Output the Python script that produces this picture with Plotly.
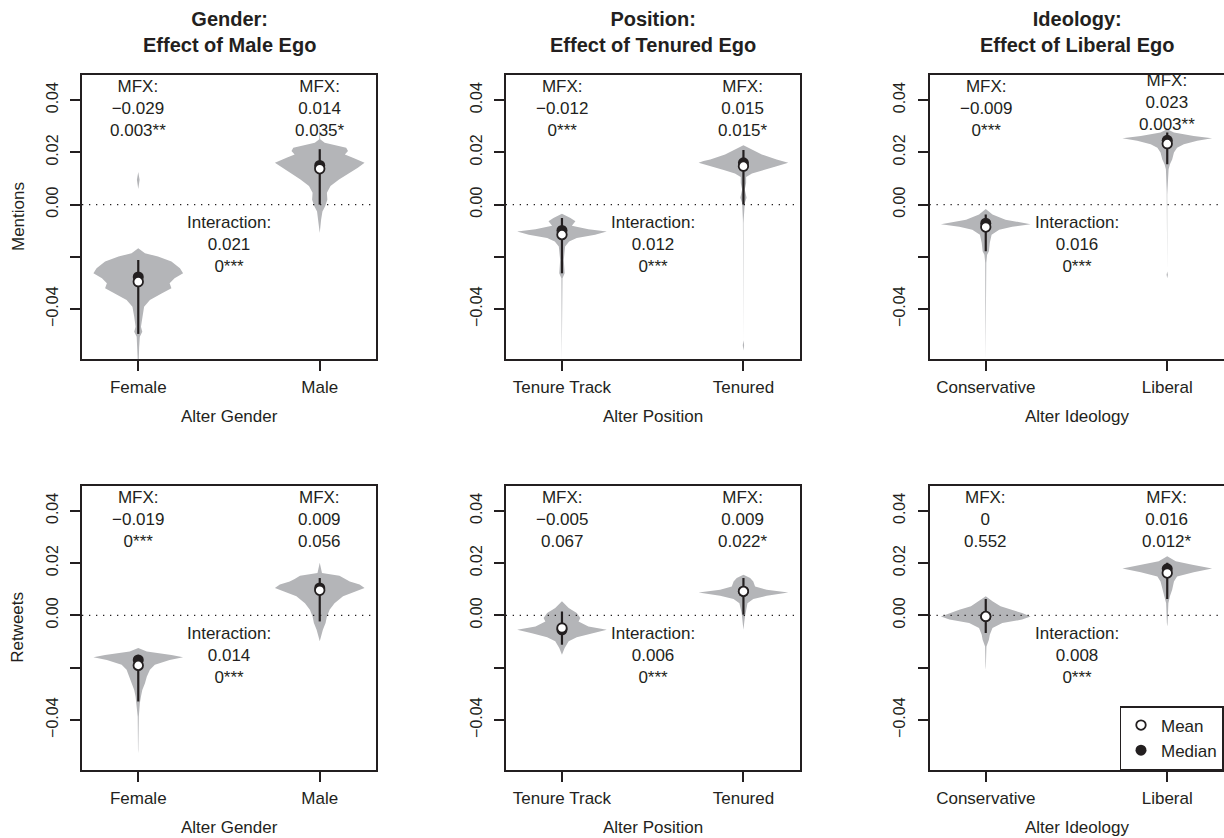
import plotly.graph_objects as go

W, H = 1224, 838
INK = "#231f20"
VIOLIN_GRAY = "#b4b5b8"
FONT = "Liberation Sans, Arial, Helvetica, sans-serif"

# ---------------- data ----------------
ROWS = ["Mentions", "Retweets"]
PANEL_TITLES = ["Gender:<br>Effect of Male Ego",
                "Position:<br>Effect of Tenured Ego",
                "Ideology:<br>Effect of Liberal Ego"]
XTITLES = ["Alter Gender", "Alter Position", "Alter Ideology"]
CATEGORIES = [["Female", "Male"], ["Tenure Track", "Tenured"], ["Conservative", "Liberal"]]

Y_TICKS = [-0.04, -0.02, 0.0, 0.02, 0.04]
Y_TICKTEXT = ["\u22120.04", "", "0.00", "0.02", "0.04"]
Y_RANGE = [-0.0591, 0.0496]
X_RANGE = [0.69, 2.31]
MAX_HALF_WIDTH = 0.247

# violin profiles: y values and relative half widths (1 = widest)
MEN_FEMALE_Y = [0.0125, 0.0095, 0.0060, -0.0167, -0.0186, -0.0199, -0.0218, -0.0244, -0.0263, -0.0282,
                -0.0301, -0.0320, -0.0340, -0.0365, -0.0391, -0.0429, -0.0468, -0.0487, -0.0506,
                -0.0545, -0.0603]
MEN_FEMALE_W = [0, 0.03, 0, 0, 0.15, 0.44, 0.74, 0.93, 1.0, 0.81, 0.70, 0.74, 0.52, 0.26, 0.13, 0.09,
                0.06, 0.09, 0.035, 0.02, 0.01]
MEN_MALE_Y = [0.0330, 0.0250, 0.0237, 0.0218, 0.0205, 0.0192, 0.0179, 0.0160, 0.0141, 0.0122, 0.0096,
              0.0071, 0.0045, 0.0019, -0.0006, -0.0026, -0.0058, -0.0109]
MEN_MALE_W = [0, 0.01, 0.11, 0.59, 0.63, 0.56, 0.74, 1.0, 0.85, 0.67, 0.43, 0.24, 0.16, 0.17, 0.12,
              0.06, 0.03, 0]
MEN_TT_Y = [-0.0035, -0.0051, -0.0064, -0.0081, -0.0094, -0.0103, -0.0115, -0.0128, -0.0141, -0.0160,
            -0.0212, -0.0263, -0.0282, -0.0596]
MEN_TT_W = [0, 0.19, 0.30, 0.22, 0.59, 1.0, 0.74, 0.33, 0.16, 0.07, 0.04, 0.06, 0.012, 0.005]
MEN_TEN_Y = [0.0227, 0.0212, 0.0192, 0.0173, 0.0167, 0.0160, 0.0147, 0.0132, 0.0119, 0.0106, 0.0083,
             0.0058, 0.0026, 0.0006, -0.0058, -0.0071, -0.0519, -0.0538, -0.0558]
MEN_TEN_W = [0, 0.19, 0.41, 0.74, 0.89, 1.0, 0.74, 0.44, 0.19, 0.06, 0.06, 0.03, 0.07, 0.03, 0.012, 0,
             0, 0.015, 0]
MEN_CON_Y = [-0.0017, -0.0038, -0.0058, -0.0075, -0.0085, -0.0096, -0.0115, -0.0147, -0.0179, -0.0192,
             -0.0224, -0.0596]
MEN_CON_W = [0, 0.15, 0.44, 1.0, 0.59, 0.30, 0.13, 0.09, 0.07, 0.03, 0.012, 0.005]
MEN_LIB_Y = [0.0288, 0.0276, 0.0263, 0.0254, 0.0244, 0.0231, 0.0218, 0.0199, 0.0173, 0.0154, 0.0135,
             0.0051, 0.0038, -0.0256, -0.0269, -0.0282]
MEN_LIB_W = [0, 0.15, 0.59, 1.0, 0.67, 0.37, 0.22, 0.15, 0.11, 0.06, 0.03, 0.012, 0, 0, 0.015, 0]

RT_FEMALE_Y = [-0.0125, -0.0138, -0.0151, -0.0160, -0.0170, -0.0189, -0.0208, -0.0234, -0.0259, -0.0285,
               -0.0310, -0.0336, -0.0387, -0.0514, -0.0527]
RT_FEMALE_W = [0, 0.19, 0.74, 1.0, 0.70, 0.37, 0.26, 0.19, 0.15, 0.09, 0.06, 0.035, 0.012, 0.006, 0]
RT_MALE_Y = [0.0201, 0.0162, 0.0152, 0.0139, 0.0130, 0.0118, 0.0105, 0.0092, 0.0073, 0.0047, 0.0022,
             -0.0004, -0.0029, -0.0055, -0.0080, -0.0099]
RT_MALE_W = [0, 0.05, 0.44, 0.56, 0.67, 0.89, 1.0, 0.81, 0.52, 0.33, 0.22, 0.16, 0.13, 0.07, 0.03, 0]
RT_TT_Y = [0.0054, 0.0028, 0.0009, -0.0010, -0.0023, -0.0042, -0.0055, -0.0068, -0.0083, -0.0099,
           -0.0125, -0.0150]
RT_TT_W = [0, 0.15, 0.33, 0.41, 0.37, 0.59, 1.0, 0.67, 0.33, 0.15, 0.06, 0]
RT_TEN_Y = [0.0156, 0.0143, 0.0130, 0.0111, 0.0098, 0.0088, 0.0075, 0.0063, 0.0047, 0.0009, -0.0004,
            -0.0023, -0.0055]
RT_TEN_W = [0, 0.15, 0.22, 0.26, 0.52, 1.0, 0.52, 0.22, 0.09, 0.04, 0.035, 0.02, 0]
RT_CON_Y = [0.0073, 0.0054, 0.0035, 0.0022, 0.0009, -0.0004, -0.0016, -0.0029, -0.0048, -0.0074,
            -0.0093, -0.0119, -0.0195, -0.0208]
RT_CON_W = [0, 0.15, 0.33, 0.59, 0.81, 1.0, 0.81, 0.37, 0.15, 0.09, 0.07, 0.015, 0.006, 0]
RT_LIB_Y = [0.0226, 0.0207, 0.0194, 0.0179, 0.0165, 0.0149, 0.0130, 0.0098, 0.0073, 0.0047, -0.0029,
            -0.0042]
RT_LIB_W = [0, 0.19, 0.56, 1.0, 0.59, 0.22, 0.15, 0.11, 0.06, 0.025, 0.008, 0]

# interval (black line) low / high, mean, median per violin, order: row, column, category
CI_LOW = [[[-0.0495, 0.0000], [-0.0263, 0.0000], [-0.0179, 0.0154]],
          [[-0.0329, -0.0023], [-0.0112, 0.0003], [-0.0067, 0.0063]]]
CI_HIGH = [[[-0.0212, 0.0212], [-0.0051, 0.0209], [-0.0038, 0.0276]],
           [[-0.0151, 0.0143], [0.0015, 0.0143], [0.0063, 0.0201]]]
MEANS = [[[-0.0295, 0.0137], [-0.0115, 0.0147], [-0.0086, 0.0233]],
         [[-0.0191, 0.0096], [-0.0048, 0.0092], [-0.0004, 0.0162]]]
MEDIANS = [[[-0.0277, 0.0150], [-0.0099, 0.0160], [-0.0071, 0.0246]],
           [[-0.0170, 0.0105], [-0.0055, 0.0092], [-0.0004, 0.0178]]]

# MFX labels: value, p-value  (per row, column, [cat1, cat2, interaction])
MFX_VALUES = [[["\u22120.029", "0.014", "0.021"], ["\u22120.012", "0.015", "0.012"], ["\u22120.009", "0.023", "0.016"]],
              [["\u22120.019", "0.009", "0.014"], ["\u22120.005", "0.009", "0.006"], ["0", "0.016", "0.008"]]]
MFX_PVALUES = [[["0.003**", "0.035*", "0***"], ["0***", "0.015*", "0***"], ["0***", "0.003**", "0***"]],
               [["0***", "0.056", "0***"], ["0.067", "0.022*", "0***"], ["0.552", "0.012*", "0***"]]]
MFX_LABEL_Y = [[[0.0368, 0.0368], [0.0368, 0.0368], [0.0368, 0.0392]],
               [[0.0368, 0.0368], [0.0368, 0.0368], [0.0368, 0.0368]]]
INTERACTION_LABEL_Y = -0.0153
REF_Y = 0.0

VIOLINS = [[[(MEN_FEMALE_Y, MEN_FEMALE_W), (MEN_MALE_Y, MEN_MALE_W)],
            [(MEN_TT_Y, MEN_TT_W), (MEN_TEN_Y, MEN_TEN_W)],
            [(MEN_CON_Y, MEN_CON_W), (MEN_LIB_Y, MEN_LIB_W)]],
           [[(RT_FEMALE_Y, RT_FEMALE_W), (RT_MALE_Y, RT_MALE_W)],
            [(RT_TT_Y, RT_TT_W), (RT_TEN_Y, RT_TEN_W)],
            [(RT_CON_Y, RT_CON_W), (RT_LIB_Y, RT_LIB_W)]]]

# ---------------- layout geometry (pixels) ----------------
COL_X = [(82, 376), (505.7, 799.7), (929.5, 1223.5)]
ROW_Y = [(75, 359), (485.7, 770)]

fig = go.Figure()
layout = dict(width=W, height=H, margin=dict(l=0, r=0, t=0, b=0),
              paper_bgcolor="white", plot_bgcolor="white",
              font=dict(family=FONT, color=INK, size=17),
              showlegend=True, annotations=[])

for r in range(2):
    for c in range(3):
        idx = r * 3 + c + 1
        xa = "x" if idx == 1 else f"x{idx}"
        ya = "y" if idx == 1 else f"y{idx}"
        x0, x1 = COL_X[c]
        y0, y1 = ROW_Y[r]
        layout[f"xaxis{'' if idx == 1 else idx}"] = dict(
            domain=[x0 / W, x1 / W], range=X_RANGE, anchor=ya,
            tickvals=[1, 2], ticktext=CATEGORIES[c], ticks="outside", ticklen=10,
            tickwidth=1.5, tickcolor=INK, showline=True, mirror=True, linecolor=INK,
            linewidth=1.5, showgrid=False, zeroline=False, tickfont=dict(size=17),
            ticklabelstandoff=2, fixedrange=True)
        layout[f"yaxis{'' if idx == 1 else idx}"] = dict(
            domain=[1 - y1 / H, 1 - y0 / H], range=Y_RANGE, anchor=xa,
            tickvals=Y_TICKS, ticktext=Y_TICKTEXT, tickangle=-90, ticks="outside",
            ticklen=10, tickwidth=1.5, tickcolor=INK, showline=True, mirror=True,
            linecolor=INK, linewidth=1.5, showgrid=False, zeroline=False,
            tickfont=dict(size=16), ticklabelstandoff=6, fixedrange=True)

        # violins
        for k in range(2):
            vy, vw = VIOLINS[r][c][k]
            pos = k + 1
            xs = [pos + w * MAX_HALF_WIDTH for w in vw] + [pos - w * MAX_HALF_WIDTH for w in vw[::-1]]
            ys = list(vy) + list(vy[::-1])
            fig.add_trace(go.Scatter(x=xs, y=ys, xaxis=xa, yaxis=ya, mode="lines",
                                     fill="toself", fillcolor=VIOLIN_GRAY,
                                     line=dict(width=0, color=VIOLIN_GRAY),
                                     hoverinfo="skip", showlegend=False))
        # dotted reference line
        fig.add_trace(go.Scatter(x=X_RANGE, y=[REF_Y, REF_Y], xaxis=xa, yaxis=ya, mode="lines",
                                 line=dict(color=INK, width=1.3, dash="1.3px,5.7px"),
                                 hoverinfo="skip", showlegend=False))
        # intervals
        for k in range(2):
            pos = k + 1
            fig.add_trace(go.Scatter(x=[pos, pos], y=[CI_LOW[r][c][k], CI_HIGH[r][c][k]],
                                     xaxis=xa, yaxis=ya, mode="lines",
                                     line=dict(color=INK, width=2.2),
                                     hoverinfo="skip", showlegend=False))
        last = (r == 1 and c == 2)
        fig.add_trace(go.Scatter(x=[1, 2], y=MEDIANS[r][c], xaxis=xa, yaxis=ya, mode="markers",
                                 marker=dict(color=INK, size=11, line=dict(width=0)),
                                 name="Median", legendrank=2, showlegend=last, hoverinfo="skip"))
        fig.add_trace(go.Scatter(x=[1, 2], y=MEANS[r][c], xaxis=xa, yaxis=ya, mode="markers",
                                 marker=dict(color="white", size=9.5, line=dict(width=1.8, color=INK)),
                                 name="Mean", legendrank=1, showlegend=last, hoverinfo="skip"))

        # MFX texts
        for k in range(2):
            layout["annotations"].append(dict(
                x=k + 1, y=MFX_LABEL_Y[r][c][k], xref=xa, yref=ya, showarrow=False,
                text=f"MFX:<br>{MFX_VALUES[r][c][k]}<br>{MFX_PVALUES[r][c][k]}",
                font=dict(size=17), xanchor="center", yanchor="middle"))
        layout["annotations"].append(dict(
            x=1.5, y=INTERACTION_LABEL_Y, xref=xa, yref=ya, showarrow=False,
            text=f"Interaction:<br>{MFX_VALUES[r][c][2]}<br>{MFX_PVALUES[r][c][2]}",
            font=dict(size=17), xanchor="center", yanchor="middle"))

        # x-axis title
        layout["annotations"].append(dict(
            x=(x0 + x1) / 2 / W, y=1 - (y1 + 57) / H, xref="paper", yref="paper",
            showarrow=False, text=XTITLES[c], font=dict(size=17),
            xanchor="center", yanchor="middle"))

    # y-axis title
    y0, y1 = ROW_Y[r]
    layout["annotations"].append(dict(
        x=18 / W, y=1 - (y0 + y1) / 2 / H, xref="paper", yref="paper", showarrow=False,
        text=ROWS[r], textangle=-90, font=dict(size=17), xanchor="center", yanchor="middle"))

# panel titles
for c in range(3):
    x0, x1 = COL_X[c]
    layout["annotations"].append(dict(
        x=(x0 + x1) / 2 / W, y=1 - 32 / H, xref="paper", yref="paper", showarrow=False,
        text="<b>" + PANEL_TITLES[c].replace("<br>", "</b><br><b>") + "</b>",
        font=dict(size=20), xanchor="center", yanchor="middle"))

layout["legend"] = dict(x=1223.5 / W, y=1 - 770 / H, xanchor="right", yanchor="bottom",
                        bgcolor="white", bordercolor=INK, borderwidth=1.5,
                        font=dict(size=17), traceorder="normal", itemwidth=30,
                        tracegroupgap=0)

fig.update_layout(**layout)
fig.write_html("out.html")
